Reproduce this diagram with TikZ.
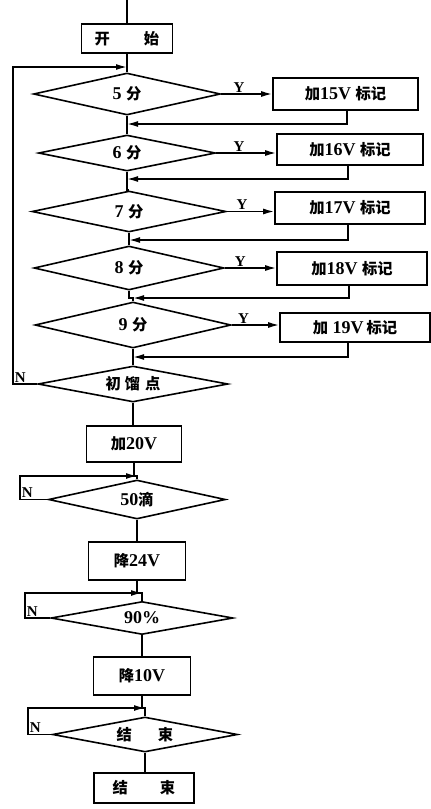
\documentclass[tikz,border=0pt]{standalone}
\usepackage{fontspec}
\setmainfont{Liberation Serif}
\newfontfamily\cjk{Noto Sans CJK SC}[Scale=0.85]
\usetikzlibrary{shapes.geometric,arrows.meta}
\newcommand{\zh}[1]{{\cjk #1}}

\begin{document}
\begin{tikzpicture}[x=1pt,y=-1pt,
  line width=1.6pt,
  font=\bfseries\fontsize{18}{20}\selectfont,
  box/.style={draw, rectangle, inner sep=0pt},
  dia/.style={draw, diamond, aspect=6, inner sep=0pt},
  arr/.style={-{Latex[length=11pt,width=6pt]}},
  lbl/.style={font=\bfseries\fontsize{15}{17}\selectfont, inner sep=1pt}]

\fill[white] (0,0) rectangle (431,809);
\useasboundingbox (0,0) rectangle (431,809);

% main column
\node[box, minimum width=91pt, minimum height=29pt] (start) at (127,38.5) {\zh{开\hspace{34pt}始}};
\coordinate (top) at (127,0);
\coordinate (j0) at (127,67);

\node[dia, minimum width=187pt, minimum height=42pt] (d5) at (127,94) {5 \zh{分}};
\node[dia, minimum width=177pt, minimum height=36pt] (d6) at (127,153) {6 \zh{分}};
\node[dia, minimum width=194pt, minimum height=41pt] (d7) at (129,211.5) {7 \zh{分}};
\node[dia, minimum width=190pt, minimum height=44pt] (d8) at (129,268) {8 \zh{分}};
\node[dia, minimum width=196pt, minimum height=46pt] (d9) at (133,325) {9 \zh{分}};
\node[dia, minimum width=190pt, minimum height=36pt] (init) at (133,384) {\zh{初\hspace{4pt}馏\hspace{5pt}点}};

% marking boxes
\node[box, minimum width=145pt, minimum height=32pt] (b15) at (345.5,94) {\zh{加}15V \zh{标记}};
\node[box, minimum width=146pt, minimum height=31pt] (b16) at (350,149.5) {\zh{加}16V \zh{标记}};
\node[box, minimum width=150pt, minimum height=32pt] (b17) at (350,208) {\zh{加}17V \zh{标记}};
\node[box, minimum width=150pt, minimum height=33pt] (b18) at (352,268.5) {\zh{加}18V \zh{标记}};
\node[box, minimum width=150pt, minimum height=29pt] (b19) at (355,327.5) {\zh{加} 19V\,\zh{标记}};

% return points on the main column
\coordinate (r5) at (347,124);  \coordinate (m5) at (127,124);
\coordinate (r6) at (348,179);  \coordinate (m6) at (127,179);
\coordinate (r7) at (348,240);  \coordinate (m7) at (129,240);
\coordinate (r8) at (349,298);  \coordinate (m8) at (133,298);
\coordinate (r9) at (348,357);  \coordinate (m9) at (133,357);

% lower column
\node[box, minimum width=95pt, minimum height=36pt] (a20) at (134,444) {\zh{加}20V};
\coordinate (j50) at (137,476);
\node[dia, minimum width=177pt, minimum height=39pt] (d50) at (137,499.5) {50\zh{滴}};
\node[box, minimum width=97pt, minimum height=38pt] (s24) at (137,561) {\zh{降}24V};
\coordinate (j90) at (142,593);
\node[dia, minimum width=182pt, minimum height=33pt] (d90) at (142,618) {90\%};
\node[box, minimum width=97pt, minimum height=38pt] (s10) at (142,676) {\zh{降}10V};
\coordinate (jend) at (145,708);
\node[dia, minimum width=185pt, minimum height=35pt] (dend) at (145,734.5) {\zh{结\hspace{26pt}束}};
\node[box, minimum width=100pt, minimum height=30pt] (fin) at (144,788) {\zh{结\hspace{32pt}束}};

% main flow
\draw (top) -- (start.north);
\draw (start.south) -- (j0) -- (d5.north);
\draw (d5.south) -- (m5) -- (d6.north);
\draw (d6.south) -- (m6) -- (d6.south |- d7.north) -- (d7.north);
\draw (d7.south) -- (m7) -- (d8.north);
\draw (d8.south) -- (d8.south |- m8) -- (m8) -- (d9.north);
\draw (d9.south) -- (m9) -- (init.north);
\draw (init.south) -- (init.south |- a20.north);
\draw (a20.south) -- (a20.south |- j50) -- (j50) -- (d50.north);
\draw (d50.south) -- (s24.north);
\draw (s24.south) -- (s24.south |- j90) -- (j90) -- (d90.north);
\draw (d90.south) -- (s10.north);
\draw (s10.south) -- (s10.south |- jend) -- (jend) -- (dend.north);
\draw (dend.south) -- (dend.south |- fin.north);

% yes branches
\draw[arr] (d5.east) -- node[lbl, above, pos=0.35] {Y} (d5.east -| b15.west);
\draw[arr] (d6.east) -- node[lbl, above, pos=0.38] {Y} (d6.east -| b16.west);
\draw[arr] (d7.east) -- node[lbl, above, pos=0.32] {Y} (d7.east -| b17.west);
\draw[arr] (d8.east) -- node[lbl, above, pos=0.3] {Y} (d8.east -| b18.west);
\draw[arr] (d9.east) -- node[lbl, above, pos=0.25] {Y} (d9.east -| b19.west);

% returns to the main column
\draw[arr] (b15.south -| r5) -- (r5) -- (m5);
\draw[arr] (b16.south -| r6) -- (r6) -- (m6);
\draw[arr] (b17.south -| r7) -- (r7) -- (m7);
\draw[arr] (b18.south -| r8) -- (r8) -- (m8);
\draw[arr] (b19.south -| r9) -- (r9) -- (m9);

% no loops
\coordinate (n0) at (13,384);
\draw[arr] (init.west) -- (n0) -- (n0 |- j0) -- (j0);
\node[lbl, anchor=south west] at (n0) {N};

\coordinate (n50) at (20,499.5);
\draw[arr] (d50.west) -- (n50) -- (n50 |- j50) -- (j50);
\node[lbl, anchor=south west] at (n50) {N};

\coordinate (n90) at (25,618);
\draw[arr] (d90.west) -- (n90) -- (n90 |- j90) -- (j90);
\node[lbl, anchor=south west] at (n90) {N};

\coordinate (nend) at (28,734.5);
\draw[arr] (dend.west) -- (nend) -- (nend |- jend) -- (jend);
\node[lbl, anchor=south west] at (nend) {N};
\end{tikzpicture}
\end{document}
